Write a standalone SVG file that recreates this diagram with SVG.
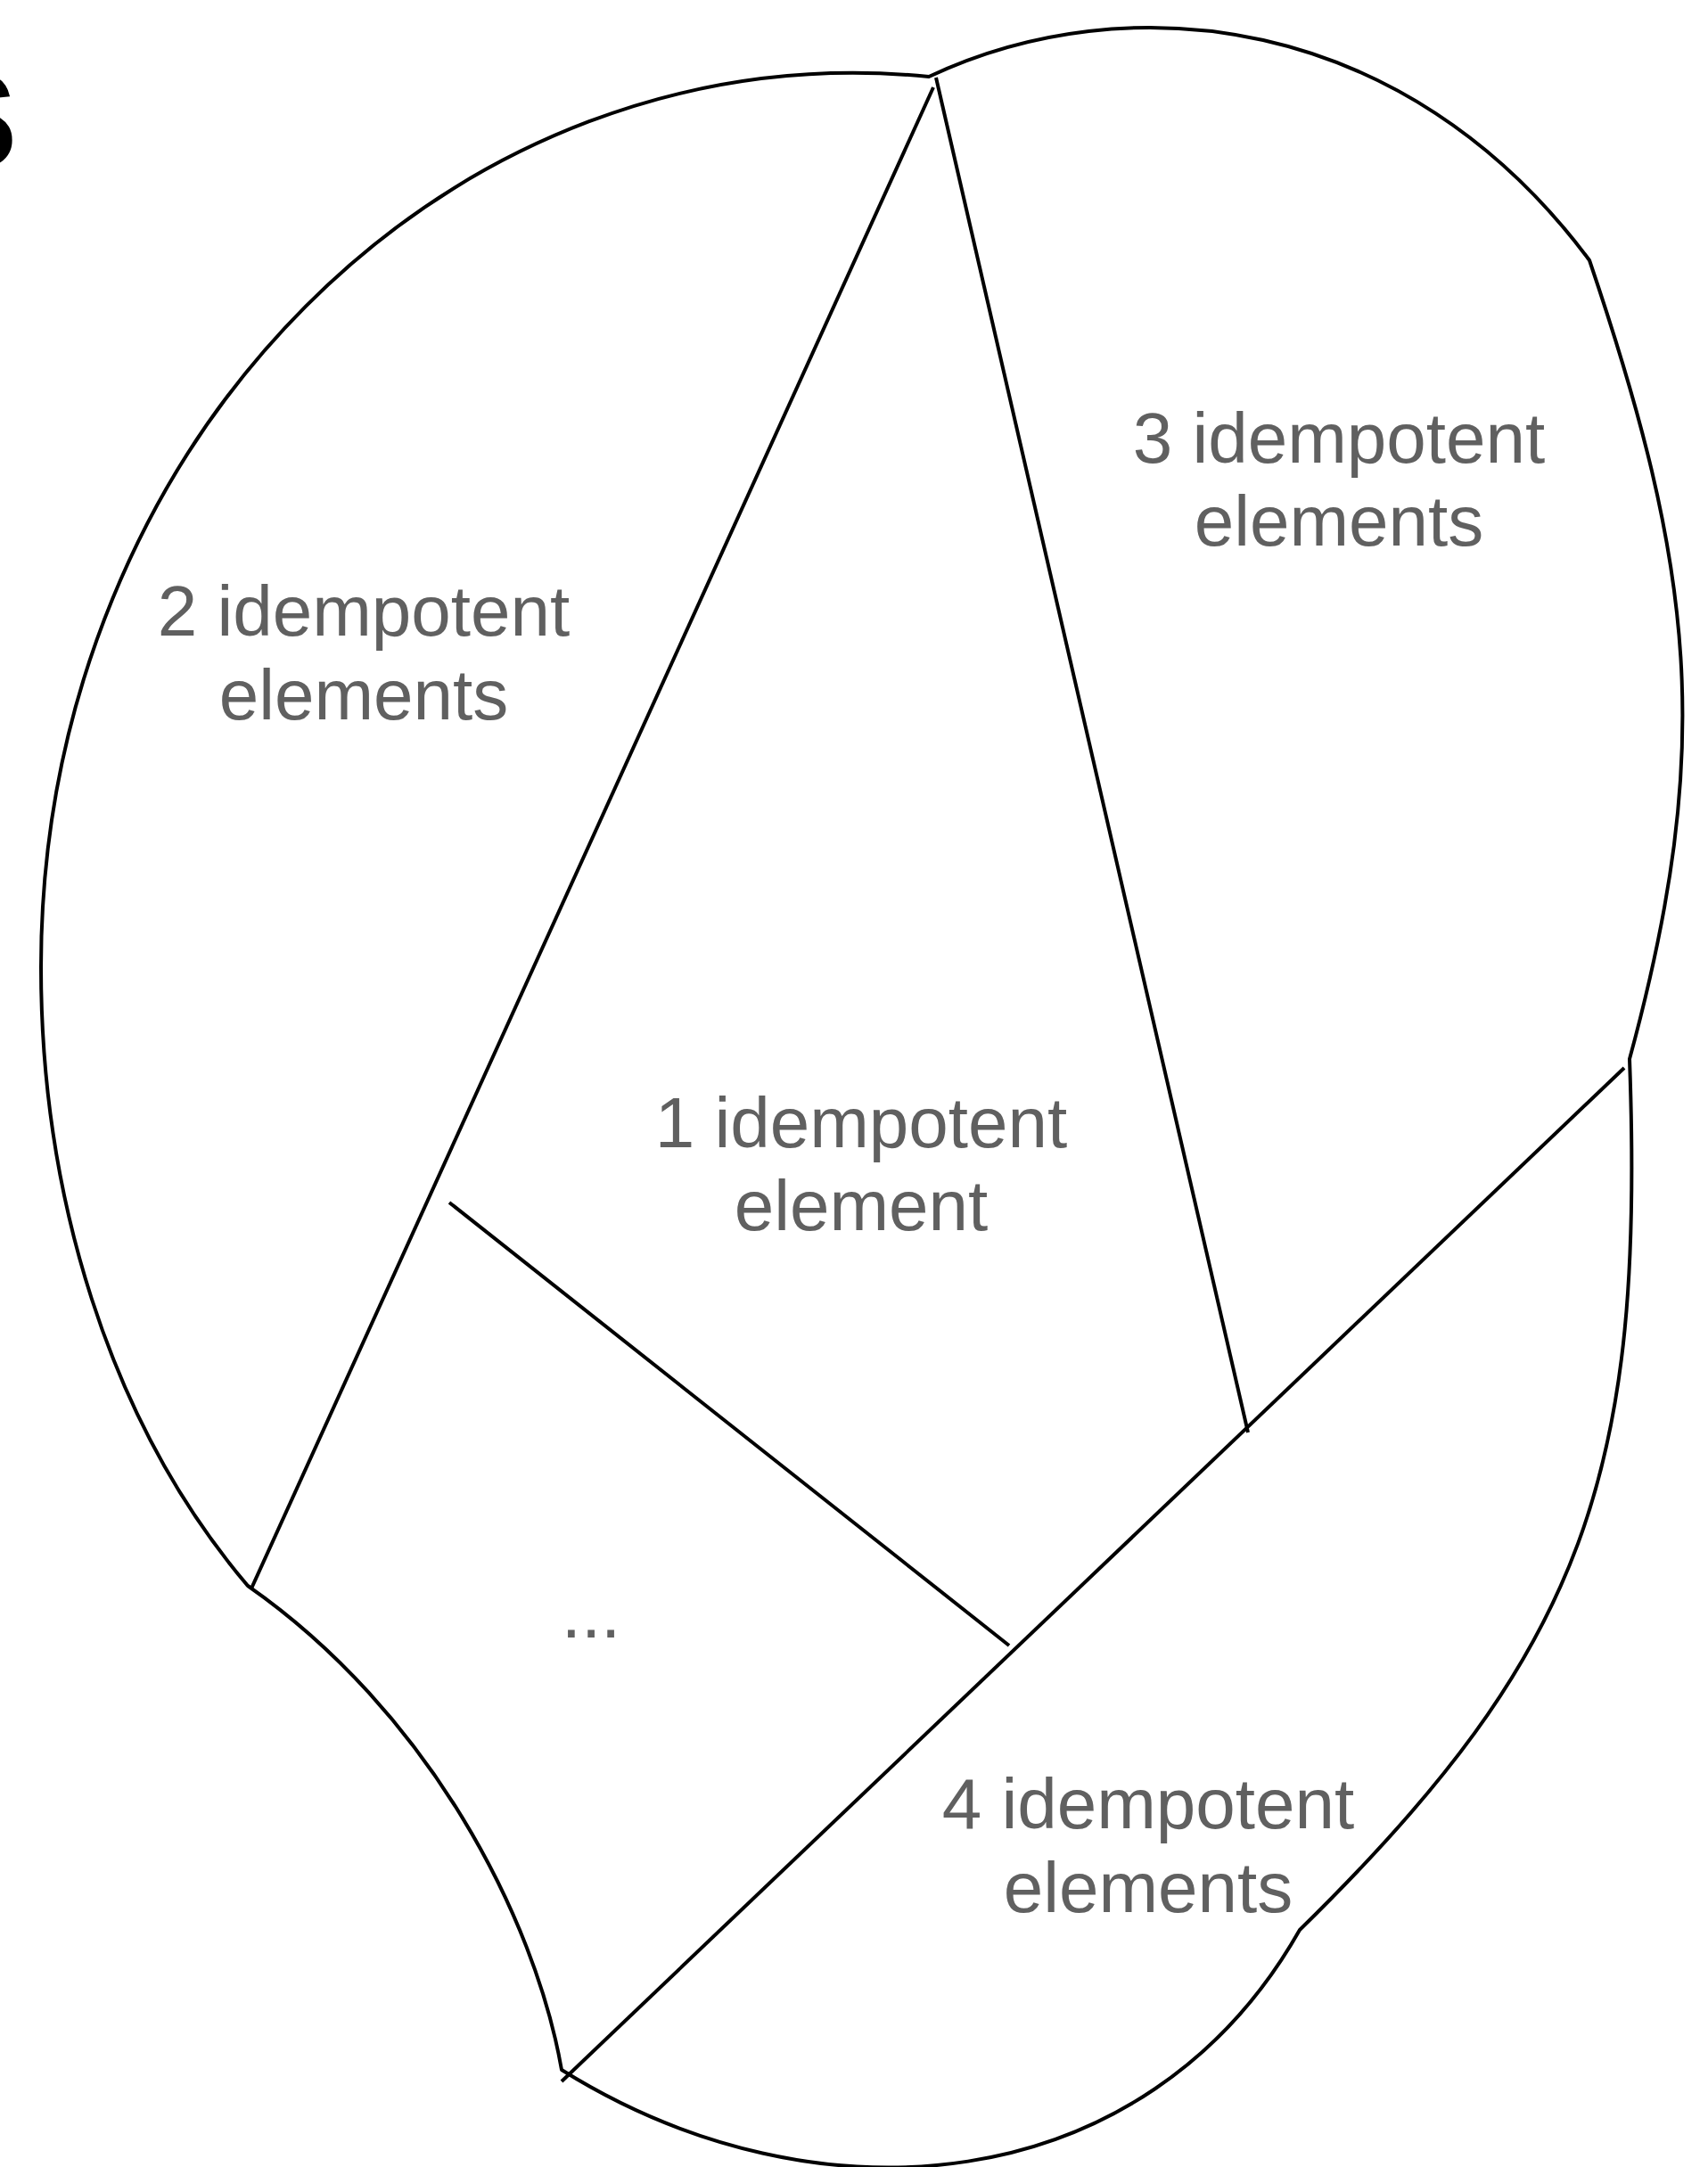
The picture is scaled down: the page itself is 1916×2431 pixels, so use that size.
<svg xmlns="http://www.w3.org/2000/svg" width="1916" height="2431" viewBox="0 0 1916 2431">
<style>
.edge{fill:none;stroke:#000;stroke-width:4;stroke-linecap:butt;stroke-linejoin:round}
.lbl{font-family:"Liberation Sans",Arial,Helvetica,sans-serif;font-size:80px;fill:#606060;text-anchor:middle}
.head{font-family:"Liberation Sans",Arial,Helvetica,sans-serif;font-size:205px;font-weight:bold;fill:#000;text-anchor:end}
</style>
<rect width="1916" height="2431" fill="#fff"/>
<text class="head" x="22" y="189">s</text>
<g id="outline">
<path class="edge" d="M278,1779 C120,1593 46,1337 46,1085 C46,493 506,33 1042,86 C1262,-18 1575,12 1783,292 C1900,637 1924,836 1828,1188 C1845,1650 1780,1850 1458,2165 C1285,2470 915,2500 630,2322 C600,2150 480,1920 278,1779 Z"/>
</g>
<g id="connectors">
<line class="edge" x1="1047" y1="98" x2="282" y2="1782"/>
<line class="edge" x1="1050" y1="87" x2="1400" y2="1607"/>
<line class="edge" x1="1822" y1="1198" x2="630" y2="2335"/>
<line class="edge" x1="504" y1="1349" x2="1132" y2="1846"/>
</g>
<g id="region1">
<text class="lbl" x="966" y="1287">1 idempotent</text>
<text class="lbl" x="966" y="1380">element</text>
</g>
<g id="region2">
<text class="lbl" x="408" y="713">2 idempotent</text>
<text class="lbl" x="408" y="807">elements</text>
</g>
<g id="region3">
<text class="lbl" x="1502" y="519">3 idempotent</text>
<text class="lbl" x="1502" y="612">elements</text>
</g>
<g id="region4">
<text class="lbl" x="1288" y="2051">4 idempotent</text>
<text class="lbl" x="1288" y="2145">elements</text>
</g>
<g id="region5">
<text class="lbl" x="663" y="1837">...</text>
</g>
</svg>
